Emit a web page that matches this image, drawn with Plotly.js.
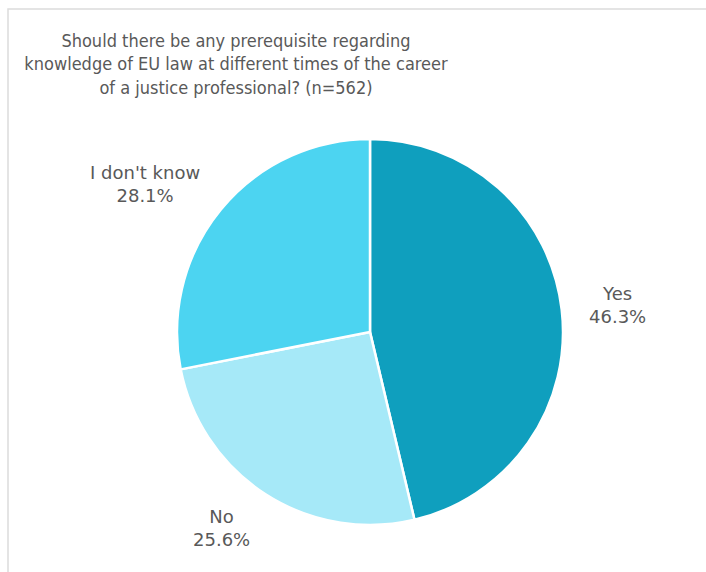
<!DOCTYPE html>
<html>
<head>
<meta charset="utf-8">
<script src="https://cdn.plot.ly/plotly-3.0.1.min.js"></script>
<style>html,body{margin:0;padding:0;background:#fff;}#chart{width:706px;height:572px;}</style>
</head>
<body>
<div id="chart"></div>
<script>
const categories = ["Yes", "No", "I don't know"];
const percents = [46.3, 25.6, 28.1];
const colors = ["#0f9fbe", "#a6e9f8", "#4cd4f1"];
const chartTitle = "Should there be any prerequisite regarding<br>knowledge of EU law at different times of the career<br>of a justice professional? (n=562)";

const W = 706, H = 572;
const cx = 370, cy = 332, r = 193;

const total = percents.reduce((a, b) => a + b, 0);
const annotations = [];
let cum = 0;
percents.forEach((p, i) => {
  const mid = (cum + p / 2) / total * 2 * Math.PI;
  cum += p;
  const s = Math.sin(mid), c = Math.cos(mid);
  const R = r + 25;
  const px = cx + R * s, py = cy - R * c;
  annotations.push({
    xref: 'paper', yref: 'paper',
    x: px / W, y: 1 - py / H,
    xanchor: s >= 0 ? 'left' : 'right',
    yanchor: 'middle',
    yshift: c * 15,
    showarrow: false,
    align: 'center',
    text: categories[i] + '<br>' + p.toFixed(1) + '%',
    font: {family: 'DejaVu Sans, Verdana, sans-serif', size: 18, color: '#595959'}
  });
});

const data = [{
  type: 'pie',
  labels: categories,
  values: percents,
  sort: false,
  direction: 'clockwise',
  rotation: 0,
  marker: {colors: colors, line: {color: '#ffffff', width: 2.5}},
  textinfo: 'none',
  hoverinfo: 'label+percent',
  showlegend: false,
  domain: {x: [(cx - r) / W, (cx + r) / W], y: [1 - (cy + r) / H, 1 - (cy - r) / H]}
}];

const layout = {
  width: W, height: H,
  margin: {l: 0, r: 0, t: 0, b: 0},
  paper_bgcolor: '#ffffff',
  showlegend: false,
  title: {
    text: chartTitle,
    x: 236 / W, xref: 'container', xanchor: 'center',
    y: 1 - 47 / H, yref: 'container', yanchor: 'middle',
    font: {family: 'DejaVu Sans Condensed, Liberation Sans Narrow, sans-serif', size: 18, color: '#595959'}
  },
  annotations: annotations,
  shapes: [{
    type: 'rect', xref: 'paper', yref: 'paper',
    x0: 8 / W, x1: 1.05, y0: -0.05, y1: 1 - 9 / H,
    line: {color: '#dcdcdc', width: 1.5}
  }]
};

Plotly.newPlot('chart', data, layout, {displayModeBar: false, staticPlot: true});
</script>
</body>
</html>
